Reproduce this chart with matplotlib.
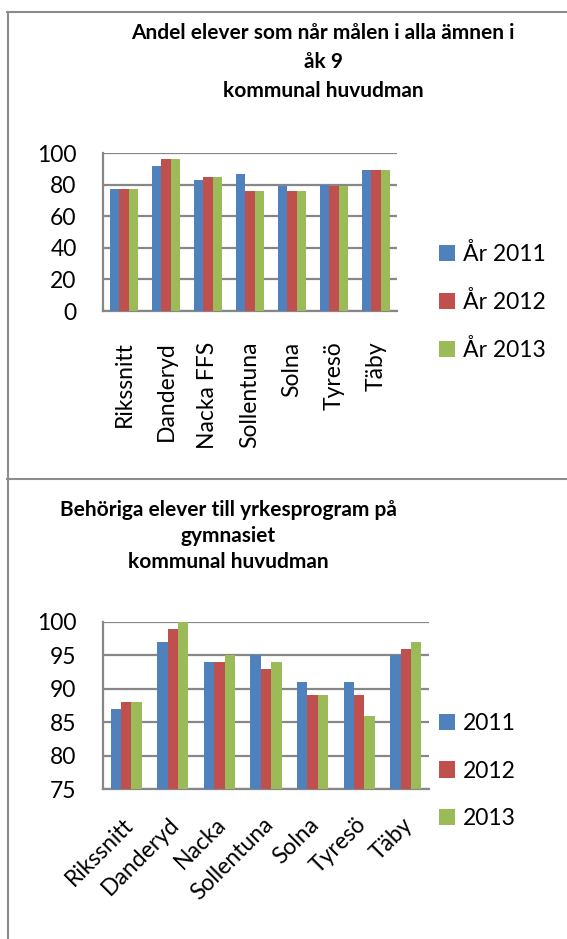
import matplotlib
matplotlib.use("Agg")
import matplotlib.pyplot as plt
from matplotlib.lines import Line2D
from matplotlib.transforms import ScaledTranslation
import numpy as np

plt.rcParams['font.family'] = ['Lato', 'DejaVu Sans']

# Chart 1: share of pupils reaching goals in all subjects, year 9
cats_top = ["Rikssnitt", "Danderyd", "Nacka FFS", "Sollentuna", "Solna", "Tyresö", "Täby"]
top_2011 = [77, 92, 83, 87, 79, 80, 89]
top_2012 = [77, 96, 85, 76, 76, 79, 89]
top_2013 = [77, 96, 85, 76, 76, 79, 89]
top_labels = ["År 2011", "År 2012", "År 2013"]
top_ticks = [0, 20, 40, 60, 80, 100]

# Chart 2: pupils eligible for vocational programmes in upper secondary
cats_bot = ["Rikssnitt", "Danderyd", "Nacka", "Sollentuna", "Solna", "Tyresö", "Täby"]
bot_2011 = [87, 97, 94, 95, 91, 91, 95]
bot_2012 = [88, 99, 94, 93, 89, 89, 96]
bot_2013 = [88, 100, 95, 94, 89, 86, 97]
bot_labels = ["2011", "2012", "2013"]
bot_ticks = [75, 80, 85, 90, 95, 100]

title_top = "Andel elever som når målen i alla ämnen i\nåk 9\nkommunal huvudman"
title_bot = "Behöriga elever till yrkesprogram på\ngymnasiet\nkommunal huvudman"

colors = ["#4F81BD", "#C0504D", "#9BBB59"]
grid_c = "#878787"

W, H = 567, 939
fig = plt.figure(figsize=(W / 100, H / 100), dpi=100)


def px_axes(left, top, right, bottom):
    return fig.add_axes([left / W, 1 - bottom / H, (right - left) / W, (bottom - top) / H])


def bars(ax, cats, series, labels, ticks):
    x = np.arange(len(cats))
    bw = 1 / 4.5
    for i, (vals, lab) in enumerate(zip(series, labels)):
        ax.bar(x + (i - 1) * bw, vals, width=bw, color=colors[i], label=lab, zorder=3)
    ax.set_xlim(-0.5, len(cats) - 0.5)
    ax.set_ylim(ticks[0], ticks[-1])
    ax.set_yticks(ticks)
    ax.set_xticks(x)
    ax.yaxis.grid(True, color=grid_c, linewidth=1.6, zorder=0)
    ax.set_axisbelow(True)
    for s in ["top", "right"]:
        ax.spines[s].set_visible(False)
    for s in ["left", "bottom"]:
        ax.spines[s].set_color(grid_c)
        ax.spines[s].set_linewidth(1.6)
    ax.tick_params(axis="both", length=0, labelsize=16.5, colors="black")
    ax.tick_params(axis="y", pad=19)


def legend(ax, y_center):
    ax.legend(loc="center left", bbox_to_anchor=(439 / W, 1 - y_center / H),
              bbox_transform=fig.transFigure, frameon=False, fontsize=16.5,
              borderpad=0, borderaxespad=0,
              handlelength=0.7, handleheight=0.7, handletextpad=0.35, labelspacing=1.15)


# Top chart
ax1 = px_axes(103, 153, 397, 311)
bars(ax1, cats_top, [top_2011, top_2012, top_2013], top_labels, top_ticks)
ax1.set_xticklabels(cats_top, rotation=90, va="top", ha="center")
ax1.tick_params(axis="x", pad=22)
fig.text(323 / W, 1 - 62 / H, title_top, ha="center", va="center",
         fontsize=15, fontweight="bold", linespacing=1.55)
legend(ax1, 302)

# Bottom chart
ax2 = px_axes(103, 622, 429, 789)
bars(ax2, cats_bot, [bot_2011, bot_2012, bot_2013], bot_labels, bot_ticks)
ax2.set_xticklabels(cats_bot, rotation=45, ha="right", va="top", rotation_mode="anchor")
ax2.tick_params(axis="x", pad=18)
shift = ScaledTranslation(-4 / 100, 0, fig.dpi_scale_trans)
for lbl in ax2.get_xticklabels():
    lbl.set_transform(lbl.get_transform() + shift)
fig.text(228 / W, 1 - 536 / H, title_bot, ha="center", va="center",
         fontsize=15, fontweight="bold", linespacing=1.4)
legend(ax2, 771)

# Chart frames
frame_c = "#8c8c8c"
for xs, ys in [([7.5, 7.5], [12, H]), ([7, W], [12, 12]), ([7, W], [479.5, 479.5])]:
    fig.add_artist(Line2D([v / W for v in xs], [1 - v / H for v in ys],
                          transform=fig.transFigure, color=frame_c, linewidth=1.5))

fig.savefig("out.png", dpi=100, facecolor="white")
